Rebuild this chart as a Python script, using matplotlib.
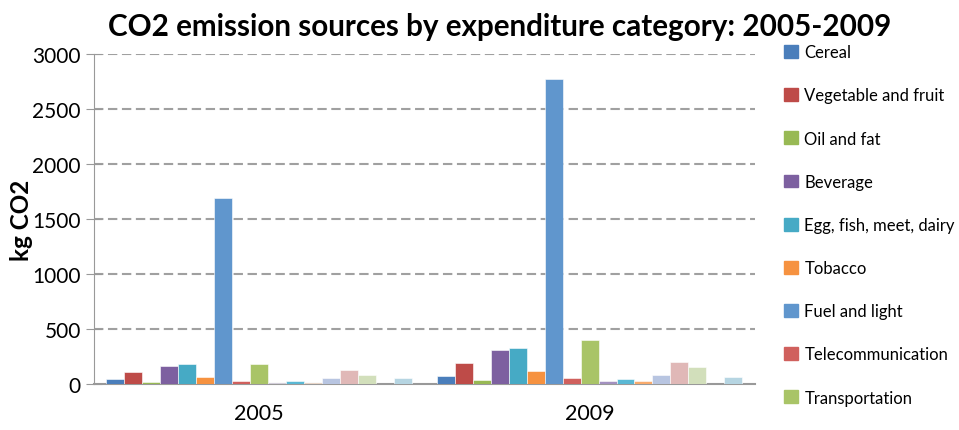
import matplotlib.pyplot as plt
import numpy as np
from matplotlib.patches import Patch

plt.rcParams['font.family'] = ['Lato', 'DejaVu Sans']

years = ['2005', '2009']
series = [
    'Cereal', 'Vegetable and fruit', 'Oil and fat', 'Beverage',
    'Egg, fish, meet, dairy', 'Tobacco', 'Fuel and light',
    'Telecommunication', 'Transportation',
    # series below are cut off from the legend in the original
    'Series 10', 'Series 11', 'Series 12', 'Series 13', 'Series 14',
    'Series 15', 'Series 16', 'Series 17',
]
values_2005 = [40, 105, 20, 165, 180, 65, 1690, 30, 180, 10, 25, 12, 50, 125, 85, 0, 50]
values_2009 = [75, 190, 35, 310, 330, 115, 2770, 50, 400, 30, 45, 30, 80, 195, 150, 0, 65]
colors = [
    '#4a7ebb', '#be4b48', '#98b954', '#7d60a0', '#46aac5', '#f69240',
    '#6096cd', '#d0605d', '#a9c467', '#a391c0', '#5ab8d4', '#f9ab6c',
    '#b8c5e1', '#e0b8b7', '#d2dfbb', '#cccccc', '#b6d5e2',
]
legend_shown = 9

fig = plt.figure(figsize=(9.59, 4.31), dpi=100)
ax = fig.add_axes([0.098, 0.107, 0.689, 0.765])

x = np.arange(len(years))
n = len(series)
w = 0.0544
for i in range(n):
    vals = [values_2005[i], values_2009[i]]
    ax.bar(x + (i - (n - 1) / 2) * w, vals, width=w, color=colors[i],
           edgecolor='white', linewidth=0.4, label=series[i], zorder=3)

ax.set_xlim(-0.5, 1.5)
ax.set_ylim(0, 3000)
ax.set_yticks(range(0, 3001, 500))
ax.set_xticks(x)
ax.set_xticklabels(years)
ax.tick_params(axis='y', labelsize=15, length=11, direction='inout',
               color='#999999', pad=4)
ax.tick_params(axis='x', labelsize=15.5, length=0, pad=14)
for v in range(500, 3001, 500):
    ax.axhline(v, color='#a0a0a0', linestyle=(0, (4.5, 2.2)), linewidth=1.5, zorder=1)
for s in ['top', 'right']:
    ax.spines[s].set_visible(False)
ax.spines['left'].set_color('#999999')
ax.spines['bottom'].set_color('#999999')
ax.spines['bottom'].set_linewidth(1.5)

ax.set_ylabel('kg CO2', fontsize=17.5, fontweight='bold')
ax.yaxis.set_label_coords(-0.092, 0.5)

fig.text(0.521, 0.937, 'CO2 emission sources by expenditure category: 2005-2009',
         ha='center', va='center', fontsize=21.3, fontweight='bold')

handles = [Patch(color=colors[i], label=series[i]) for i in range(legend_shown)]
fig.legend(handles=handles, loc='upper left', bbox_to_anchor=(0.818, 0.895),
           frameon=False, fontsize=12, labelspacing=1.63, handlelength=0.8,
           handleheight=0.8, handletextpad=0.4, borderaxespad=0, borderpad=0)

plt.savefig('out.png', dpi=100)
